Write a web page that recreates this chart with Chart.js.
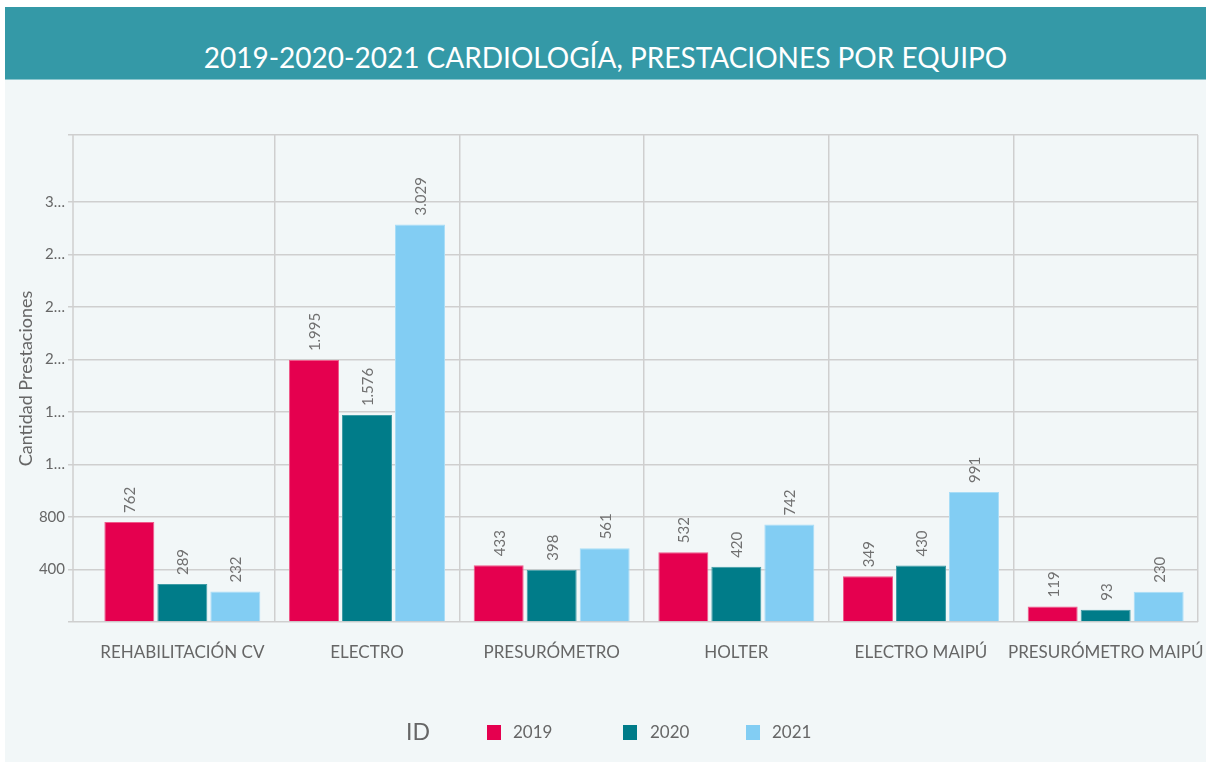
<!DOCTYPE html>
<html>
<head>
<meta charset="utf-8">
<script src="https://cdn.jsdelivr.net/npm/chart.js@4"></script>
<style>
  html, body { margin: 0; padding: 0; background: #ffffff; width: 1206px; height: 762px; overflow: hidden; font-family: Lato, "Open Sans", sans-serif; }
  #titlebar { position: absolute; left: 5px; top: 7px; width: 1201px; height: 73px; background: #3499A7; border-bottom: 1px solid #8CC6CE; box-sizing: border-box; }
  #titlebar span { position: absolute; left: 0; right: 0; top: 35px; text-align: center; color: #ffffff; font-size: 28px; line-height: 30px; }
  #panel { position: absolute; left: 5px; top: 80px; width: 1201px; height: 682px; background: #F2F7F8; }
  #chartwrap { position: absolute; left: 0; top: 0; width: 1201px; height: 682px; }
  #legend { position: absolute; left: 0; top: 0; width: 1206px; height: 762px; pointer-events: none; }
  .lg { position: absolute; color: #666666; font-size: 17px; line-height: 20px; }
  .sw { position: absolute; width: 14px; height: 15px; }
</style>
</head>
<body>
<div id="titlebar"><span>2019-2020-2021 CARDIOLOGÍA, PRESTACIONES POR EQUIPO</span></div>
<div id="panel"><div id="chartwrap"><canvas id="c"></canvas></div></div>
<div id="legend">
  <div class="lg" style="left:406px; top:717px; font-size:23px; line-height:28px;">ID</div>
  <div class="sw" style="left:487px; top:725px; background:#E5004F;"></div>
  <div class="lg" style="left:513px; top:722px;">2019</div>
  <div class="sw" style="left:623px; top:725px; background:#007C89;"></div>
  <div class="lg" style="left:650px; top:722px;">2020</div>
  <div class="sw" style="left:746px; top:725px; background:#82CDF3;"></div>
  <div class="lg" style="left:772px; top:722px;">2021</div>
</div>
<script>
const categories = ["REHABILITACIÓN CV", "ELECTRO", "PRESURÓMETRO", "HOLTER", "ELECTRO MAIPÚ", "PRESURÓMETRO MAIPÚ"];
const seriesNames = ["2019", "2020", "2021"];
const values2019 = [762, 1995, 433, 532, 349, 119];
const values2020 = [289, 1576, 398, 420, 430, 93];
const values2021 = [232, 3029, 561, 742, 991, 230];
const yTickValues = [0, 400, 800, 1200, 1600, 2000, 2400, 2800, 3200];
const yMax = 3710;

const colors = ["#E5004F", "#007C89", "#82CDF3"];
const borders = ["#EF5A8A", "#3F9CA6", "#A8DDF7"];
const GRID = "#CFCFCF";
const TEXT = "#666666";

function fmtThousands(v) {
  return String(v).replace(/\B(?=(\d{3})+(?!\d))/g, ".");
}
function fmtTick(v) {
  if (v === 0 || v === yMax) return "";
  const s = String(v);
  return s.length > 3 ? s[0] + "…" : s;
}

const extraLines = {
  id: "extraLines",
  beforeDatasetsDraw(chart) {
    const { ctx, chartArea } = chart;
    ctx.save();
    ctx.strokeStyle = GRID;
    ctx.lineWidth = 1.5;
    ctx.beginPath();
    ctx.moveTo(68, chartArea.top);
    ctx.lineTo(68, chartArea.bottom);
    ctx.stroke();
    ctx.restore();
  }
};

const dataLabels = {
  id: "dataLabels",
  afterDatasetsDraw(chart) {
    const { ctx } = chart;
    ctx.save();
    ctx.fillStyle = "#707070";
    ctx.font = "15px Lato, sans-serif";
    ctx.textAlign = "left";
    ctx.textBaseline = "middle";
    chart.data.datasets.forEach((ds, di) => {
      const meta = chart.getDatasetMeta(di);
      meta.data.forEach((bar, i) => {
        ctx.save();
        ctx.translate(bar.x, bar.y - 9);
        ctx.rotate(-Math.PI / 2);
        ctx.fillText(fmtThousands(ds.data[i]), 0, 1);
        ctx.restore();
      });
    });
    ctx.restore();
  }
};

new Chart(document.getElementById("c"), {
  type: "bar",
  data: {
    labels: categories,
    datasets: [values2019, values2020, values2021].map((vals, k) => ({
      label: seriesNames[k],
      data: vals,
      backgroundColor: colors[k],
      borderColor: borders[k],
      borderWidth: 1,
      categoryPercentage: 0.861,
      barPercentage: 0.943
    }))
  },
  options: {
    responsive: true,
    maintainAspectRatio: false,
    animation: false,
    events: [],
    layout: { padding: { left: 0, right: 8, top: 55, bottom: 0 } },
    plugins: { legend: { display: false }, tooltip: { enabled: false }, title: { display: false } },
    scales: {
      x: {
        offset: true,
        border: { display: false },
        grid: {
          offset: true,
          drawTicks: false,
          lineWidth: 1.5,
          color: (c) => (c.index === 0 ? "rgba(0,0,0,0)" : GRID)
        },
        ticks: { color: TEXT, font: { family: "Lato", size: 17 }, padding: 20, maxRotation: 0, autoSkip: false },
        afterFit: (s) => { s.height = 140; s.paddingLeft = 0; s.paddingRight = 0; }
      },
      y: {
        min: 0,
        max: yMax,
        border: { display: false },
        afterBuildTicks: (s) => { s.ticks = yTickValues.concat([yMax]).map(v => ({ value: v })); },
        grid: { color: GRID, lineWidth: 1.5, tickLength: 22, tickColor: GRID },
        ticks: { color: TEXT, font: { family: "Lato", size: 15 }, padding: 3, callback: (v) => fmtTick(v) },
        title: { display: true, text: "Cantidad Prestaciones", color: TEXT, font: { family: "Lato", size: 18 }, padding: { top: 10, bottom: 0 } },
        afterFit: (s) => { s.width = 85; s.paddingTop = 0; s.paddingBottom = 0; }
      }
    }
  },
  plugins: [extraLines, dataLabels]
});
</script>
</body>
</html>
